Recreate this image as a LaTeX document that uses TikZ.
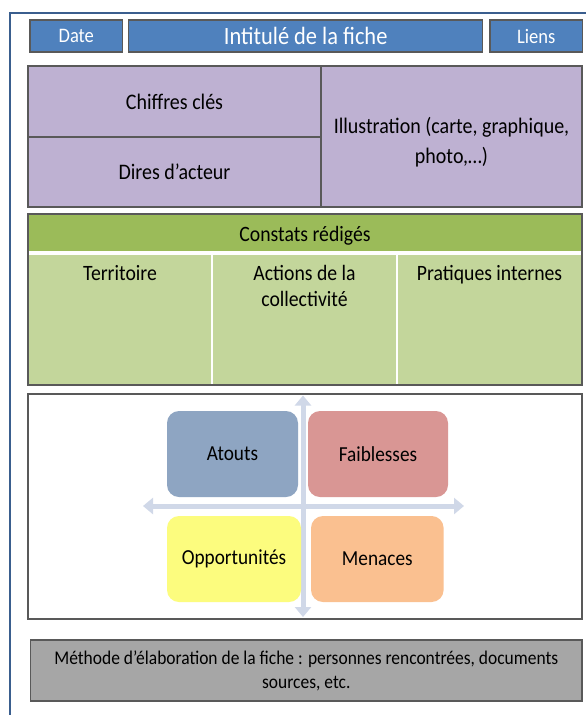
\documentclass[tikz,border=0pt]{standalone}
\usepackage{fontspec}
\setmainfont{Carlito}[FakeStretch=0.9]
\usetikzlibrary{arrows.meta}
\definecolor{frameblue}{RGB}{58,94,142}
\definecolor{hdrblue}{RGB}{79,129,189}
\definecolor{edgegrey}{RGB}{89,89,89}
\definecolor{lilac}{RGB}{190,177,210}
\definecolor{greenhdr}{RGB}{155,187,89}
\definecolor{greenbody}{RGB}{195,214,155}
\definecolor{atoutcol}{RGB}{142,165,194}
\definecolor{faibcol}{RGB}{217,150,148}
\definecolor{oppcol}{RGB}{252,252,126}
\definecolor{mencol}{RGB}{250,192,144}
\definecolor{axiscol}{RGB}{208,216,232}
\definecolor{greybox}{RGB}{166,166,166}
\begin{document}
\begin{tikzpicture}[x=1pt,y=-1pt,
  hdrbox/.style={draw=edgegrey, line width=1.5pt, fill=hdrblue, text=white,
    inner sep=0pt, outer sep=0pt, font=\fontsize{20.6}{24}\selectfont},
  lilacbox/.style={draw=edgegrey, line width=1.3pt, fill=lilac, inner sep=0pt,
    outer sep=0pt, align=center, font=\fontsize{22.2}{30}\selectfont},
  colbox/.style={fill=greenbody, inner sep=0pt, outer sep=0pt},
  coltext/.style={anchor=north, align=center, inner sep=0pt,
    font=\fontsize{21.9}{26}\selectfont},
  swot/.style={rounded corners=12pt, inner sep=0pt, outer sep=0pt,
    minimum height=86pt, font=\fontsize{21.4}{25}\selectfont},
  axis/.style={draw=axiscol, line width=5pt,
    {Triangle[width=16pt,length=10pt]}-{Triangle[width=16pt,length=10pt]}}
]
\clip (0,0) rectangle (586,715);
\fill[white] (0,0) rectangle (586,715);
% outer frame
\draw[frameblue, line width=2pt] (9.5,13) rectangle (640,760);
% header row
\node[hdrbox, minimum width=92.7pt, minimum height=32pt] (date) at (76.3,36) {Date};
\node[hdrbox, minimum width=354pt, minimum height=32pt,
  font=\fontsize{24.9}{28}\selectfont] (title) at (305.7,36) {Intitulé de la fiche};
\node[hdrbox, minimum width=92.7pt, minimum height=32pt] (liens) at (536.3,36) {Liens};
% lilac block
\node[lilacbox, minimum width=293pt, minimum height=71pt] (chiffres) at (174.5,101.5) {Chiffres clés};
\node[lilacbox, minimum width=293pt, minimum height=70pt] (dires) at (174.5,172) {Dires d’acteur};
\node[lilacbox, minimum width=261pt, minimum height=141pt] (illus) at (451.5,136.5) {};
\node[align=center, inner sep=0pt, font=\fontsize{22.2}{30}\selectfont] (illustxt)
  at ([yshift=-5.5pt]illus.center) {Illustration (carte, graphique,\\photo,…)};
% green block
\node[colbox, minimum width=184pt, minimum height=130pt] (terr) at (120,320) {};
\node[colbox, minimum width=185pt, minimum height=130pt] (actions) at (304.5,320) {};
\node[colbox, minimum width=185pt, minimum height=130pt] (prat) at (489.5,320) {};
\draw[white, line width=2pt] (terr.north east) -- (terr.south east);
\draw[white, line width=2pt] (actions.north east) -- (actions.south east);
\node[fill=greenhdr, inner sep=0pt, outer sep=0pt, minimum width=554pt,
  minimum height=37pt] (constats) at (305,232.5) {};
\node[inner sep=0pt, font=\fontsize{21.9}{26}\selectfont] (constatstxt)
  at ([yshift=-3pt]constats.center) {Constats rédigés};
\draw[white, line width=4pt] ([yshift=-2pt]constats.south west) -- ([yshift=-2pt]constats.south east);
\draw[edgegrey, line width=1.3pt] (constats.north west) rectangle (prat.south east);
\node[coltext] (terrtxt) at ([yshift=-10pt]terr.north) {Territoire};
\node[coltext] (actionstxt) at ([yshift=-10pt]actions.north) {Actions de la\\collectivité};
\node[coltext] (pratstxt) at ([yshift=-10pt]prat.north) {Pratiques internes};
% SWOT block
\node[draw=edgegrey, line width=1.3pt, fill=white, inner sep=0pt, outer sep=0pt,
  minimum width=554pt, minimum height=225pt] (swotbox) at (305,506.5) {};
\coordinate (vtop) at (303,395.5);
\coordinate (vbot) at (303,617);
\coordinate (hleft) at (143,506);
\coordinate (hright) at (464,506);
\draw[axis] (vtop) -- (vbot);
\draw[axis] (hleft) -- (hright);
\node[swot, fill=atoutcol, minimum width=131pt] (atouts) at (232.5,454) {Atouts};
\node[swot, fill=faibcol, minimum width=140pt] (faib) at (378,454) {Faiblesses};
\node[swot, fill=oppcol, minimum width=134pt] (opp) at (234,559) {Opportunités};
\node[swot, fill=mencol, minimum width=132.6pt] (men) at (377.3,559) {Menaces};
% method box
\node[draw=edgegrey, line width=1.3pt, fill=greybox, inner sep=0pt, outer sep=0pt,
  minimum width=551.4pt, minimum height=61pt, align=center,
  font=\fontsize{19.4}{24}\selectfont] (methode) at (306.3,670.5)
  {Méthode d’élaboration de la fiche : personnes rencontrées, documents\\sources, etc.};
\end{tikzpicture}
\end{document}
